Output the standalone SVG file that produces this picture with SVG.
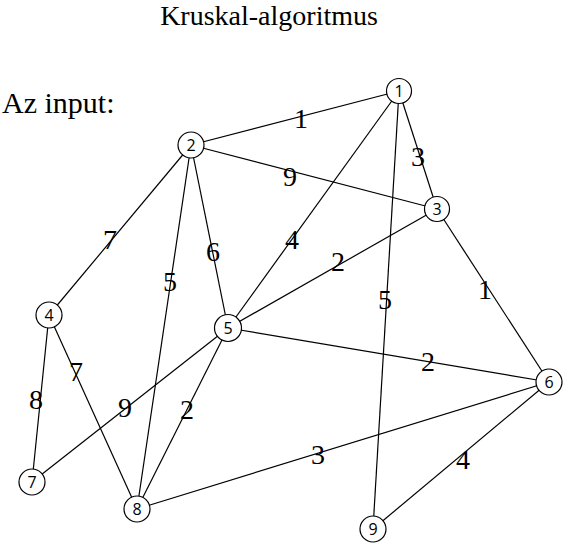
<svg xmlns="http://www.w3.org/2000/svg" width="563" height="543" viewBox="0 0 563 543">
<style>
.e{stroke:#000;stroke-width:1.2;fill:none}
.n circle{fill:#fff;stroke:#000;stroke-width:1.2}
.n text{font-family:"Open Sans","Noto Sans",sans-serif;font-size:16px;text-anchor:middle;fill:#000}
.w{font-family:"Times New Roman","Liberation Serif","DejaVu Serif",serif;font-size:28px;text-anchor:middle;fill:#000}
.t{font-family:"Times New Roman","Liberation Serif","DejaVu Serif",serif;fill:#000}
</style>
<rect width="563" height="543" fill="#fff"/>
<text class="t" x="269" y="25" font-size="28" text-anchor="middle">Kruskal-algoritmus</text>
<text class="t" x="2" y="113" font-size="30">Az input:</text>
<g id="edges">
<line class="e" x1="399" y1="91" x2="191" y2="145"/>
<line class="e" x1="191" y1="145" x2="437" y2="209"/>
<line class="e" x1="399" y1="91" x2="437" y2="209"/>
<line class="e" x1="191" y1="145" x2="49" y2="315"/>
<line class="e" x1="191" y1="145" x2="228" y2="328"/>
<line class="e" x1="191" y1="145" x2="137" y2="509"/>
<line class="e" x1="399" y1="91" x2="228" y2="328"/>
<line class="e" x1="437" y1="209" x2="228" y2="328"/>
<line class="e" x1="399" y1="91" x2="373" y2="529"/>
<line class="e" x1="437" y1="209" x2="549" y2="382"/>
<line class="e" x1="228" y1="328" x2="549" y2="382"/>
<line class="e" x1="49" y1="315" x2="32" y2="482"/>
<line class="e" x1="49" y1="315" x2="137" y2="509"/>
<line class="e" x1="228" y1="328" x2="32" y2="482"/>
<line class="e" x1="228" y1="328" x2="137" y2="509"/>
<line class="e" x1="137" y1="509" x2="549" y2="382"/>
<line class="e" x1="373" y1="529" x2="549" y2="382"/>
<text class="w" x="301" y="128">1</text>
<text class="w" x="290" y="186">9</text>
<text class="w" x="418" y="166">3</text>
<text class="w" x="110" y="249">7</text>
<text class="w" x="213" y="261">6</text>
<text class="w" x="170" y="291">5</text>
<text class="w" x="292" y="249">4</text>
<text class="w" x="338" y="271">2</text>
<text class="w" x="385" y="309">5</text>
<text class="w" x="485" y="299">1</text>
<text class="w" x="428" y="371">2</text>
<text class="w" x="36" y="409">8</text>
<text class="w" x="76" y="381">7</text>
<text class="w" x="125" y="417">9</text>
<text class="w" x="187" y="419">2</text>
<text class="w" x="318" y="464">3</text>
<text class="w" x="463" y="469">4</text>
</g>
<g id="n1" class="n"><circle cx="399" cy="91" r="12.5"/><text x="399" y="97">1</text></g>
<g id="n2" class="n"><circle cx="191" cy="145" r="13"/><text x="191" y="151">2</text></g>
<g id="n3" class="n"><circle cx="437" cy="209" r="12.5"/><text x="437" y="215">3</text></g>
<g id="n4" class="n"><circle cx="49" cy="315" r="13"/><text x="49" y="321">4</text></g>
<g id="n5" class="n"><circle cx="228" cy="328" r="13.5"/><text x="228" y="334">5</text></g>
<g id="n6" class="n"><circle cx="549" cy="382" r="13"/><text x="549" y="388">6</text></g>
<g id="n7" class="n"><circle cx="32" cy="482" r="13"/><text x="32" y="488">7</text></g>
<g id="n8" class="n"><circle cx="137" cy="509" r="13"/><text x="137" y="515">8</text></g>
<g id="n9" class="n"><circle cx="373" cy="529" r="13"/><text x="373" y="535">9</text></g>
</svg>
